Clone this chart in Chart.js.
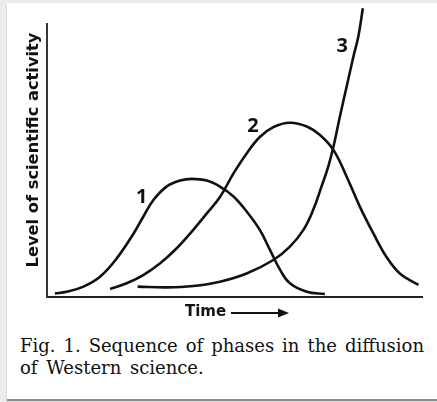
<!DOCTYPE html>
<html>
<head>
<meta charset="utf-8">
<script src="https://cdn.jsdelivr.net/npm/chart.js@4"></script>
<style>
  html, body { margin: 0; padding: 0; }
  body { width: 437px; height: 402px; background: #ececec; position: relative; overflow: hidden; }
  .card {
    position: absolute; left: 7px; top: 3px; width: 430px; height: 396px;
    background: #fff; box-shadow: 0 2px 1px #8a8a8a;
  }
  .chart-box { position: absolute; left: 0; top: 0; width: 437px; height: 325px; }
  .caption {
    position: absolute; left: 20px; width: 404px;
    font-family: "DejaVu Serif", "Liberation Serif", serif;
    font-size: 18px; line-height: 22px; color: #111; white-space: nowrap;
  }
  .line1 { top: 335px; text-align: justify; text-align-last: justify; }
  .line2 { top: 357px; word-spacing: 3px; }
</style>
</head>
<body>
<div class="card"></div>
<div class="chart-box"><canvas id="chart" width="437" height="325"></canvas></div>
<div class="caption line1">Fig. 1. Sequence of phases in the diffusion</div>
<div class="caption line2">of Western science.</div>

<script>
// time (0-100) and level of activity (0-100)
const phase1Time  = [2.1, 5.2, 9.7, 14.1, 18.5, 23.0, 25.6, 28.3, 31.8, 35.4, 38.5, 42.5, 46.0, 49.6, 53.1, 56.6, 59.3, 62.0, 64.6, 69.1, 73.9];
const phase1Level = [1.3, 1.9, 3.8, 7.4, 14.0, 23.1, 29.3, 35.4, 40.3, 42.5, 43.1, 42.5, 40.3, 36.7, 31.2, 24.5, 17.2, 9.9, 5.0, 1.9, 1.1];

const phase2Time  = [16.8, 21.2, 25.6, 30.1, 34.5, 38.9, 42.5, 46.0, 49.6, 53.1, 56.6, 60.2, 64.6, 69.1, 72.6, 76.2, 79.7, 83.2, 86.8, 90.3, 93.9, 98.8];
const phase2Level = [2.9, 5.0, 8.0, 12.3, 17.8, 24.5, 30.5, 36.5, 45.1, 52.4, 58.4, 62.0, 63.6, 62.2, 59.1, 53.6, 43.9, 33.0, 23.2, 14.6, 8.5, 4.4];

const phase3Time  = [24.1, 31.8, 38.9, 46.0, 53.1, 60.2, 64.6, 68.2, 70.8, 73.0, 74.8, 76.2, 77.9, 79.7, 81.5, 82.8, 84.0];
const phase3Level = [3.8, 3.5, 4.0, 5.6, 8.6, 13.5, 18.4, 24.5, 31.8, 40.3, 47.6, 54.9, 65.9, 76.8, 87.8, 95.1, 105.4];

// curve labels: text, time, level
const labelText  = ['1', '2', '3'];
const labelTime  = [25.2, 54.8, 78.5];
const labelLevel = [36.5, 62.4, 91.5];

const yTitle = 'Level of scientific activity';
const xTitle = 'Time';

function toPoints(xs, ys) {
    return xs.map((x, i) => ({ x: x, y: ys[i] }));
}

function curve(xs, ys) {
    return {
        data: toPoints(xs, ys),
        borderColor: '#111',
        borderWidth: 2.6,
        pointRadius: 0,
        fill: false,
        tension: 0.4,
        clip: false
    };
}

// axis lines, drawn only over the chart area
const axes = {
    id: 'axes',
    beforeDatasetsDraw(chart) {
        const ctx = chart.ctx;
        const a = chart.chartArea;
        ctx.save();
        ctx.strokeStyle = '#222';
        ctx.lineWidth = 1.8;
        ctx.beginPath();
        ctx.moveTo(a.left, a.top);
        ctx.lineTo(a.left, a.bottom);
        ctx.lineTo(a.right, a.bottom);
        ctx.stroke();
        ctx.restore();
    }
};

// draws the curve numbers and the axis titles
const annotations = {
    id: 'annotations',
    afterDatasetsDraw(chart) {
        const ctx = chart.ctx;
        const x = chart.scales.x;
        const y = chart.scales.y;
        const area = chart.chartArea;
        ctx.save();
        ctx.fillStyle = '#111';
        ctx.textAlign = 'center';
        ctx.textBaseline = 'middle';
        ctx.font = 'bold 20px "Open Sans", sans-serif';
        labelText.forEach((t, i) => {
            ctx.fillText(t, x.getPixelForValue(labelTime[i]), y.getPixelForValue(labelLevel[i]));
        });

        // y title, sized to the length it has in the figure
        ctx.save();
        ctx.translate(area.left - 13.5, area.top + 127);
        ctx.rotate(-Math.PI / 2);
        ctx.font = 'bold 15px "DejaVu Sans", sans-serif';
        const size = 15 * 235 / ctx.measureText(yTitle).width;
        ctx.font = 'bold ' + size.toFixed(2) + 'px "DejaVu Sans", sans-serif';
        ctx.fillText(yTitle, 0, 0);
        ctx.restore();

        // x title with arrow
        const ty = area.bottom + 15;
        ctx.font = 'bold 15px "DejaVu Sans", sans-serif';
        ctx.textAlign = 'left';
        ctx.fillText(xTitle, area.left + 138, ty);
        const ax0 = area.left + 184, ax1 = area.left + 242;
        ctx.strokeStyle = '#111';
        ctx.lineWidth = 1.8;
        ctx.beginPath();
        ctx.moveTo(ax0, ty + 1);
        ctx.lineTo(ax1 - 6, ty + 1);
        ctx.stroke();
        ctx.beginPath();
        ctx.moveTo(ax1, ty + 1);
        ctx.lineTo(ax1 - 11, ty - 3.5);
        ctx.lineTo(ax1 - 11, ty + 5.5);
        ctx.closePath();
        ctx.fill();
        ctx.restore();
    }
};

new Chart(document.getElementById('chart'), {
    type: 'line',
    data: {
        datasets: [
            curve(phase1Time, phase1Level),
            curve(phase2Time, phase2Level),
            curve(phase3Time, phase3Level)
        ]
    },
    options: {
        responsive: false,
        animation: false,
        layout: { padding: { left: 47, right: 14, top: 23, bottom: 28 } },
        plugins: {
            legend: { display: false },
            tooltip: { enabled: false }
        },
        scales: {
            x: {
                type: 'linear', min: 0, max: 100,
                ticks: { display: false },
                grid: { display: false, drawTicks: false },
                border: { display: false }
            },
            y: {
                min: 0, max: 100,
                ticks: { display: false },
                grid: { display: false, drawTicks: false },
                border: { display: false }
            }
        }
    },
    plugins: [axes, annotations]
});
</script>
</body>
</html>
